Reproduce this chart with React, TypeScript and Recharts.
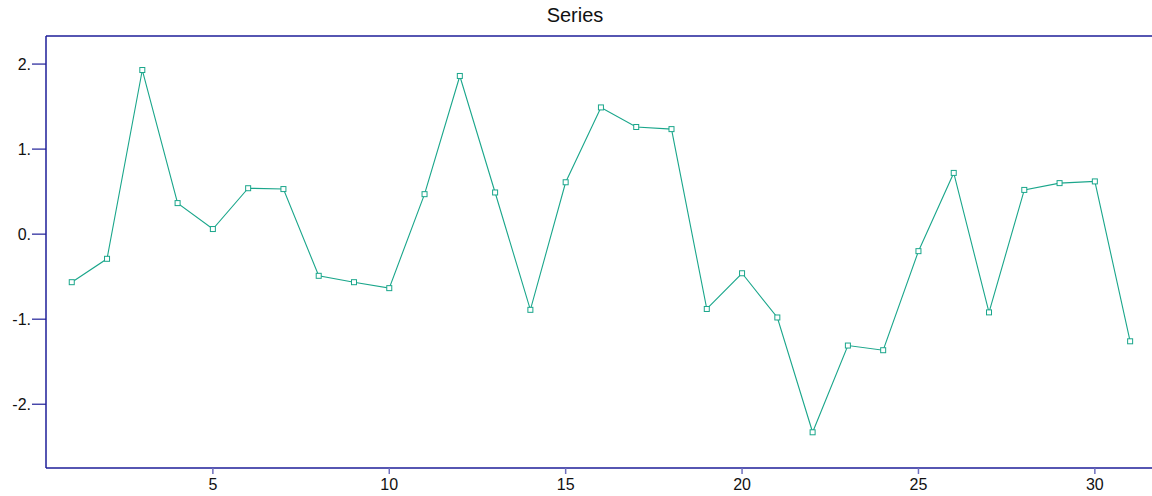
import React from "react";
import { Line, LineChart, XAxis, YAxis } from "recharts";

const xValues = [
  1, 2, 3, 4, 5, 6, 7, 8, 9, 10, 11, 12, 13, 14, 15, 16, 17, 18, 19, 20, 21,
  22, 23, 24, 25, 26, 27, 28, 29, 30, 31,
];
const seriesValues = [
  -0.565, -0.29, 1.93, 0.365, 0.06, 0.54, 0.53, -0.49, -0.565, -0.635, 0.47,
  1.86, 0.49, -0.89, 0.61, 1.49, 1.26, 1.235, -0.88, -0.46, -0.98, -2.33,
  -1.31, -1.365, -0.2, 0.72, -0.92, 0.52, 0.6, 0.62, -1.26,
];
const xTicks = [5, 10, 15, 20, 25, 30];
const yTicks = [-2, -1, 0, 1, 2];

const data = xValues.map((x, i) => ({ x, value: seriesValues[i] }));

const AXIS = "#1e1e98";
const LINE = "#1aa68b";
const FONT = "'Liberation Sans', Arial, sans-serif";

function SquareDot(props: any) {
  const { cx, cy, index } = props;
  if (cx == null || cy == null) return null;
  return (
    <rect
      key={`dot-${index}`}
      x={cx - 2.5}
      y={cy - 2.5}
      width={5}
      height={5}
      fill="#ffffff"
      stroke={LINE}
      strokeWidth={1}
    />
  );
}

export default function App() {
  return (
    <div
      style={{
        position: "absolute",
        left: 0,
        top: 0,
        width: 1152,
        height: 496,
        background: "#ffffff",
        fontFamily: FONT,
      }}
    >
      <div
        style={{
          position: "absolute",
          top: 4,
          left: 0,
          width: 1150,
          textAlign: "center",
          fontSize: 20,
          lineHeight: "23px",
          color: "#111",
        }}
      >
        Series
      </div>
      <LineChart
        width={1152}
        height={496}
        data={data}
        margin={{ top: 35, right: 0, bottom: 0, left: 0 }}
      >
        <XAxis
          xAxisId="top"
          orientation="top"
          dataKey="x"
          type="number"
          domain={[0.27, 31.62]}
          allowDataOverflow
          height={1}
          tick={false}
          tickLine={false}
          axisLine={{ stroke: AXIS, strokeWidth: 1.5 }}
        />
        <XAxis
          dataKey="x"
          type="number"
          domain={[0.27, 31.62]}
          allowDataOverflow
          ticks={xTicks}
          height={28}
          tickSize={6}
          tickMargin={5}
          axisLine={{ stroke: AXIS, strokeWidth: 1.5 }}
          tickLine={{ stroke: "#6f6fbe", strokeWidth: 1.5 }}
          tick={{ fill: "#111", fontSize: 16, fontFamily: FONT }}
        />
        <YAxis
          type="number"
          domain={[-2.75, 2.33]}
          allowDataOverflow
          ticks={yTicks}
          width={46}
          tickSize={14}
          tickMargin={1}
          tickFormatter={(v: number) => `${v}.`}
          axisLine={{ stroke: AXIS, strokeWidth: 1.5 }}
          tickLine={{ stroke: AXIS, strokeWidth: 1.2 }}
          tick={{ fill: "#111", fontSize: 16, fontFamily: FONT }}
        />
        <Line
          dataKey="value"
          type="linear"
          stroke={LINE}
          strokeWidth={1.1}
          dot={SquareDot}
          activeDot={false}
          isAnimationActive={false}
        />
      </LineChart>
    </div>
  );
}
